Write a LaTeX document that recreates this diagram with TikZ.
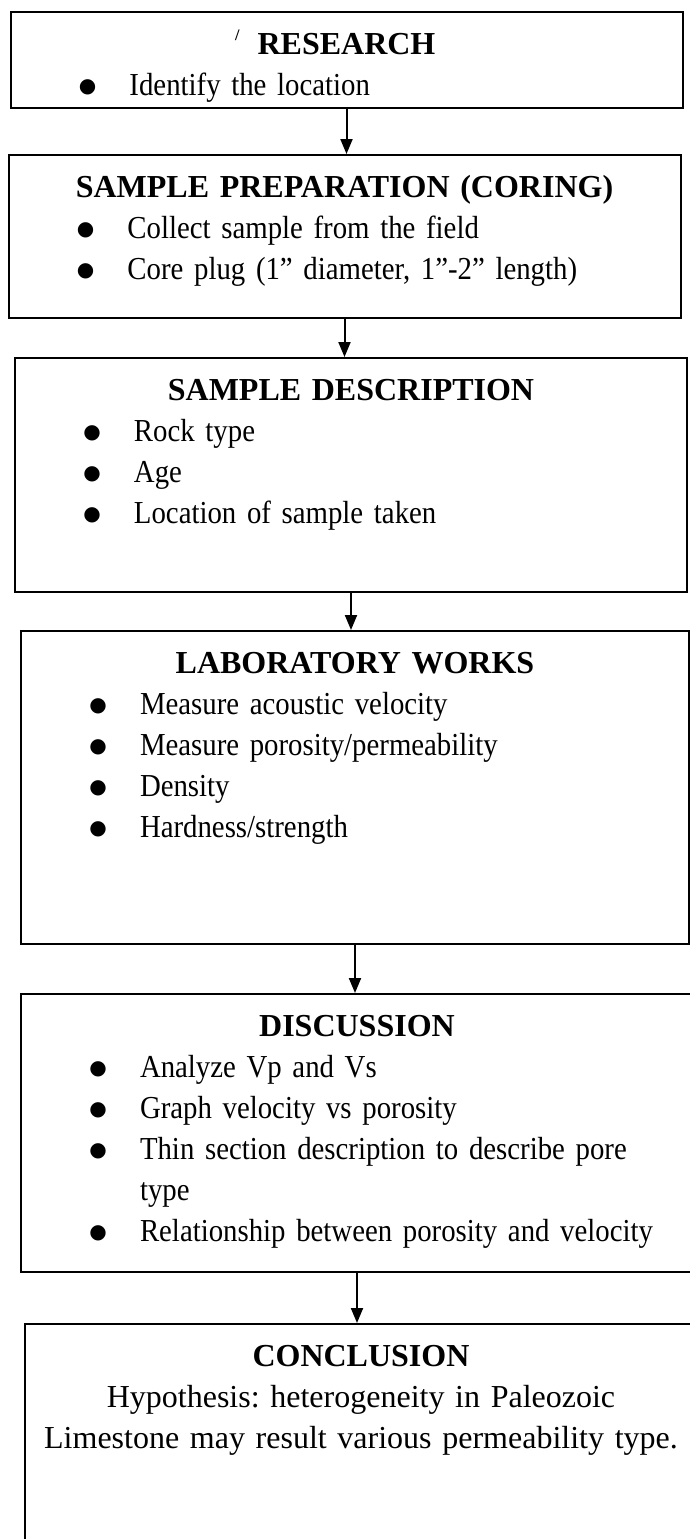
\documentclass[tikz,border=0pt]{standalone}
\usepackage{fontspec}
\setmainfont{Liberation Serif}
\newfontfamily\itemfont[FakeStretch=0.9]{Liberation Serif}
\newfontfamily\dotfont{DejaVu Sans}
\usepackage{tikz}
\usetikzlibrary{arrows.meta, positioning}
\frenchspacing
\newcommand{\bitem}[1]{\par\raggedright\hangindent=59.5pt\hangafter=1\noindent\hspace*{28.5pt}\makebox[20pt]{\raisebox{1.5pt}{\dotfont\fontsize{10pt}{12pt}\selectfont ●}}\hspace*{11pt}{\itemfont #1}\par}
\newcommand{\boxtitle}[1]{{\centering\textbf{#1}\par}}
\tikzset{
    box/.style={rectangle, draw=black, line width=1pt, text width=336pt, align=left,
                inner xsep=0pt, inner ysep=10.5pt, text height=10.5pt,
                font=\fontsize{16pt}{20.5pt}\selectfont},
    arrow/.style={line width=1pt, -{Triangle[length=7.5pt, width=6pt]}}
}

\begin{document}
\begin{tikzpicture}[x=0.5pt, y=-0.5pt]
    \useasboundingbox (0,0) rectangle (690,1539);

    % Research
    \node[box, anchor=north, text depth=16.5pt] (research) at (346.5,11)
        {\boxtitle{\llap{\raisebox{7pt}{\fontsize{8pt}{8pt}\selectfont/}\hspace{9pt}}RESEARCH}
         \bitem{Identify the location}};

    % Coring
    \node[box, below=22.5pt of research, xshift=-1pt, text depth=50pt] (coring)
        {\boxtitle{SAMPLE PREPARATION (CORING)}
         \bitem{Collect sample from the field}
         \bitem{Core plug (1” diameter, 1”-2” length)}};

    % Description
    \node[box, below=19pt of coring, xshift=3.25pt, text depth=85.5pt] (descr)
        {\boxtitle{SAMPLE DESCRIPTION}
         \bitem{Rock type}
         \bitem{Age}
         \bitem{Location of sample taken}};

    % Laboratory
    \node[box, below=18.5pt of descr, xshift=2pt, text width=334pt, text depth=125pt] (labwork)
        {\boxtitle{LABORATORY WORKS}
         \bitem{Measure acoustic velocity}
         \bitem{Measure porosity/permeability}
         \bitem{Density}
         \bitem{Hardness/strength}};

    % Discussion
    \node[box, below=24pt of labwork, xshift=1pt, text depth=107.5pt] (discuss)
        {\boxtitle{DISCUSSION}
         \bitem{Analyze Vp and Vs}
         \bitem{Graph velocity vs porosity}
         \bitem{Thin section description to describe pore\hfill\break type}
         \bitem{Relationship between porosity and velocity}};

    % Conclusion
    \node[box, below=25pt of discuss, xshift=2pt, text depth=80pt] (concl)
        {\centering\textbf{CONCLUSION}\\
         Hypothesis: heterogeneity in Paleozoic\\
         Limestone may result various permeability type.\par};

    % Arrows
    \draw[arrow] (research) -- (research |- coring.north);
    \draw[arrow] (coring) -- (coring |- descr.north);
    \draw[arrow] (descr) -- (descr |- labwork.north);
    \draw[arrow] (labwork) -- (labwork |- discuss.north);
    \draw[arrow] (discuss) -- (discuss |- concl.north);
\end{tikzpicture}
\end{document}
